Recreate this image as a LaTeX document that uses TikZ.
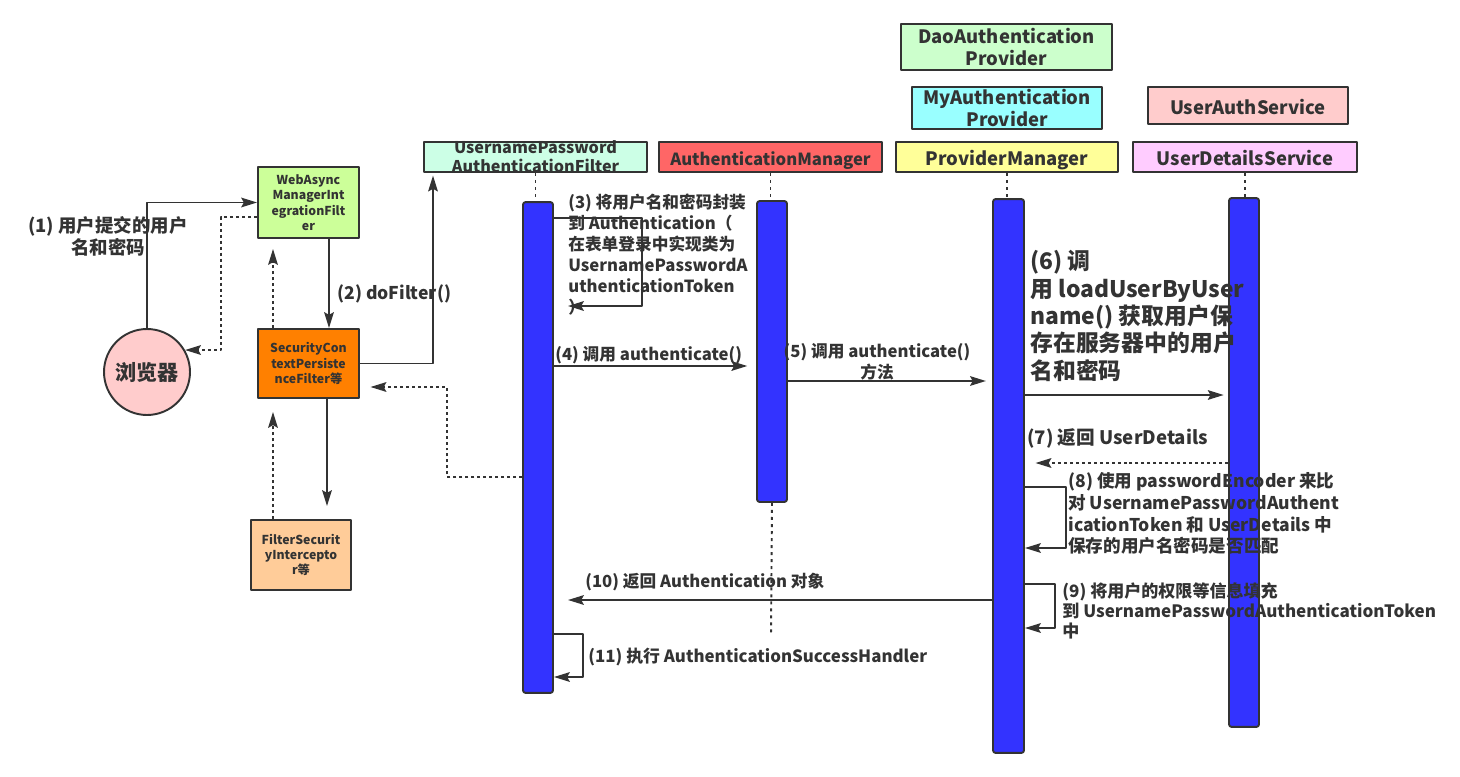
\documentclass[tikz,border=0pt]{standalone}
\usepackage{fontspec}
\setmainfont{Noto Sans CJK SC}
\usetikzlibrary{positioning,calc,arrows.meta}
\definecolor{inkGrey}{HTML}{333333}
\definecolor{barBlue}{HTML}{3333FF}
\definecolor{mintHead}{HTML}{CCFFE6}
\definecolor{amRed}{HTML}{FF6666}
\definecolor{pmYellow}{HTML}{FFFF99}
\definecolor{myCyan}{HTML}{99FFFF}
\definecolor{daoGreen}{HTML}{CCFFCC}
\definecolor{uasPink}{HTML}{FFCCCC}
\definecolor{udsViolet}{HTML}{FFCCFF}
\definecolor{webGreen}{HTML}{CCFF99}
\definecolor{secOrange}{HTML}{FF8000}
\definecolor{fsiPeach}{HTML}{FFCC99}
\tikzset{
   seqHead/.style = {
         rectangle,
         draw = inkGrey,
         text = inkGrey,
         align = center,
         inner sep = 0pt,
         line width = 1.1pt,
         font = \bfseries\fontsize{10.5}{13}\selectfont,
         minimum height = 0.6cm,
      },
   seqHeadLow/.style = {
         seqHead,
         text height = 10pt,
         text depth = -1pt,
      },
   seqFilter/.style = {
         rectangle,
         draw = inkGrey,
         text = inkGrey,
         align = center,
         inner sep = 0pt,
         line width = 1.1pt,
         font = \bfseries\fontsize{7}{8.8}\selectfont,
         minimum width = 2.02cm,
      },
   seqBar/.style = {
         rectangle,
         draw = inkGrey,
         fill = barBlue,
         rounded corners = 1.5pt,
         line width = 1.1pt,
         inner sep = 0pt,
         minimum width = 0.6cm,
      },
   seqLabel/.style = {
         inner sep = 0pt,
         text = inkGrey,
         align = left,
         font = \bfseries\fontsize{10}{12.4}\selectfont,
      },
   seqLine/.style = {
         draw = inkGrey,
         line width = 1.1pt,
         -{Stealth[length=9pt,width=5.5pt,inset=1.5pt]},
      },
   seqReply/.style = {
         seqLine,
         dash pattern = on 1.7pt off 1.7pt,
      },
   seqLife/.style = {
         draw = inkGrey,
         line width = 1.1pt,
         dash pattern = on 1.7pt off 2.3pt,
      },
}

\begin{document}
\begin{tikzpicture}[x=0.02cm, y=-0.02cm, line join=round]
\useasboundingbox (0,0) rectangle (1460,777);

% Place nodes
\node [seqHead, fill=daoGreen, minimum width=4.22cm, minimum height=0.92cm]
	(daoProv) at (1006.5,47) {DaoAuthentication\\Provider};
\node [seqHead, fill=myCyan, minimum width=3.8cm, minimum height=0.84cm]
	(myProv) at (1007,108) {MyAuthentication\\Provider};
\node [seqHeadLow, fill=uasPink, minimum width=4cm, minimum height=0.74cm]
	(userAuth) at (1248,105.5) {UserAuthService};

\node [seqHead, fill=mintHead, minimum width=4.46cm,
	label={[align=center, text=inkGrey, font=\bfseries\fontsize{9.2}{10.8}\selectfont]center:UsernamePassword\\AuthenticationFilter}]
	(upaf) at (535.5,157) {};
\node [seqHeadLow, fill=amRed, minimum width=4.46cm, font=\bfseries\fontsize{9.5}{11}\selectfont]
	(authMgr) at (770.5,157) {AuthenticationManager};
\node [seqHeadLow, fill=pmYellow, minimum width=4.44cm]
	(provMgr) at (1007,157) {ProviderManager};
\node [seqHeadLow, fill=udsViolet, minimum width=4.48cm]
	(udService) at (1245,157) {UserDetailsService};

\node [seqBar, minimum height=9.82cm] (bar1) at (538,447.5) {};
\node [seqBar, minimum height=6.02cm] (bar2) at (772,351.5) {};
\node [seqBar, minimum height=11.08cm, minimum width=0.62cm] (bar3) at (1008.5,476) {};
\node [seqBar, minimum height=10.58cm] (bar4) at (1244,462.5) {};
\coordinate (amEnd) at (771,635);

\node [circle, draw=inkGrey, fill=uasPink, line width=1.1pt, minimum size=1.72cm,
	inner sep=0pt, text=inkGrey, font=\bfseries\fontsize{12}{14}\selectfont]
	(browser) at (147,372) {浏览器};
\node [seqFilter, fill=webGreen, minimum height=1.42cm]
	(webAsync) at (308.5,202.5) {WebAsync\\ManagerInt\\egrationFilt\\er};
\node [seqFilter, fill=secOrange, minimum height=1.38cm]
	(secCtx) at (308.5,363.5) {SecurityCon\\textPersiste\\nceFilter等};
\node [seqFilter, fill=fsiPeach, minimum width=2cm, minimum height=1.4cm]
	(filterSec) at (301,555) {FilterSecurit\\yIntercepto\\r等};

% Labels
\node [seqLabel, align=center, anchor=north, font=\bfseries\fontsize{10.5}{12.5}\selectfont]
	(lbl1) at (108,216) {(1) 用户提交的用户\\名和密码};
\node [seqLabel, anchor=west] (lbl2) at (337,294) {(2) doFilter()};
\node [seqLabel, anchor=north west, font=\bfseries\fontsize{9.5}{11.9}\selectfont]
	(lbl3) at (568,194) {(3) 将用户名和密码封装\\到 Authentication（\\在表单登录中实现类为\\UsernamePasswordA\\uthenticationToken\\）};
\node [seqLabel, anchor=west, font=\bfseries\fontsize{9.5}{11.9}\selectfont]
	(lbl4) at (555,355) {(4) 调用 authenticate()};
\node [seqLabel, align=center, anchor=north, font=\bfseries\fontsize{9.5}{11.9}\selectfont]
	(lbl5) at (877,343) {(5) 调用 authenticate()\\方法};
\node [seqLabel, anchor=north west, font=\bfseries\fontsize{13}{15.6}\selectfont]
	(lbl6) at (1030,250) {(6) 调\\用 loadUserByUser\\name() 获取用户保\\存在服务器中的用户\\名和密码};
\node [seqLabel, anchor=west, font=\bfseries\fontsize{10.6}{12.4}\selectfont]
	(lbl7) at (1027,438) {(7) 返回 UserDetails};
\node [seqLabel, anchor=north west]
	(lbl8) at (1068,472) {(8) 使用 passwordEncoder 来比\\对 UsernamePasswordAuthent\\icationToken 和 UserDetails 中\\保存的用户名密码是否匹配};
\node [seqLabel, anchor=north west, font=\bfseries\fontsize{9.7}{11.6}\selectfont]
	(lbl9) at (1062,582) {(9) 将用户的权限等信息填充\\到 UsernamePasswordAuthenticationToken\\中};
\node [seqLabel, anchor=west, font=\bfseries\fontsize{9.5}{11.9}\selectfont]
	(lbl10) at (585,582) {(10) 返回 Authentication 对象};
\node [seqLabel, anchor=west, font=\bfseries\fontsize{9.6}{11.9}\selectfont]
	(lbl11) at (588,657) {(11) 执行 AuthenticationSuccessHandler};

% Lifelines
\path [seqLife] (upaf.south) -- (upaf.south |- bar1.north);
\path [seqLife] (authMgr.south) -- (authMgr.south |- bar2.north);
\path [seqLife] (bar2.south) -- (amEnd);
\path [seqLife] (provMgr.south) -- (provMgr.south |- bar3.north);
\path [seqLife] (udService.south) -- (udService.south |- bar4.north);

% Filter chain
\path [seqLine] (browser.north) |- (webAsync.west);
\path [seqReply] (webAsync.west |- 0,217) -- ++(-36,0) |- (browser.30);
\path [seqLine] (webAsync.south -| 329,0) -- (secCtx.north -| 329,0);
\path [seqReply, shorten >=5.7pt] (secCtx.north -| 273,0) -- (webAsync.south -| 273,0);
\path [seqLine, shorten >=1.5pt] (secCtx.east) -| (upaf.south -| 433,0);
\path [seqReply, shorten >=6pt] (bar1.west |- 0,477) -| (447,387) -- (secCtx.east |- 0,387);
\path [seqLine, shorten >=7.4pt] (secCtx.south -| 327,0) -- (filterSec.north -| 327,0);
\path [seqReply, shorten >=7.4pt] (filterSec.north -| 273,0) -- (secCtx.south -| 273,0);

% Messages
\path [seqLine, shorten >=8pt] (bar1.east |- 0,218) -- ++(88,0) |- (bar1.east |- 0,306);
\path [seqLine, shorten >=5pt] (bar1.east |- 0,366) -- (bar2.west |- 0,366);
\path [seqLine, shorten >=3.5pt] (bar2.east |- 0,381) -- (bar3.west |- 0,381);
\path [seqLine, shorten >=2.5pt] (bar3.east |- 0,395) -- (bar4.west |- 0,395);
\path [seqReply, shorten >=6pt] (bar4.west |- 0,463) -- (bar3.east |- 0,463);
\path [seqLine] (bar3.east |- 0,487) -- ++(41,0) |- (bar3.east |- 0,548);
\path [seqLine] (bar3.east |- 0,584) -- ++(30,0) |- (bar3.east |- 0,628);
\path [seqLine, shorten >=8pt] (bar3.west |- 0,600) -- (bar1.east |- 0,600);
\path [seqLine] (bar1.east |- 0,634) -- ++(29,0) |- (bar1.east |- 0,677);

\end{tikzpicture}
\end{document}
